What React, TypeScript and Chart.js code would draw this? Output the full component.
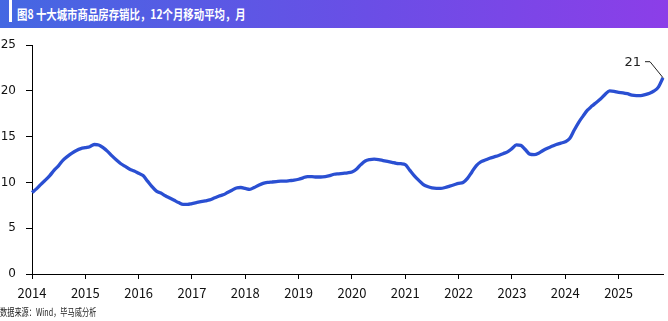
import React, { useEffect, useRef } from "react";
import { Chart, registerables } from "chart.js";

Chart.register(...registerables);

const TITLE = "图8 十大城市商品房存销比，12个月移动平均，月";
const SOURCE = "数据来源：Wind，毕马威分析";
const START_YEAR = 2014;

// Jan 2014 .. Nov 2025, monthly
const ratioValues: number[] = [
  8.9, 9.3, 9.8, 10.25, 10.75, 11.35, 11.85, 12.45, 12.85, 13.2, 13.5, 13.7,
  13.8, 13.9, 14.15, 14.1, 13.8, 13.4, 12.9, 12.45, 12.05, 11.75, 11.45, 11.25,
  11.0, 10.75, 10.15, 9.55, 9.05, 8.85, 8.55, 8.3, 8.05, 7.8, 7.6, 7.6,
  7.7, 7.8, 7.9, 8.0, 8.1, 8.3, 8.5, 8.65, 8.9, 9.15, 9.4, 9.45,
  9.35, 9.25, 9.45, 9.7, 9.9, 10.0, 10.05, 10.1, 10.15, 10.15, 10.2, 10.25,
  10.35, 10.5, 10.65, 10.65, 10.6, 10.6, 10.65, 10.75, 10.9, 10.95, 11.0, 11.05,
  11.15, 11.45, 11.95, 12.35, 12.5, 12.55, 12.5, 12.4, 12.3, 12.2, 12.1, 12.05,
  11.95, 11.35, 10.75, 10.25, 9.8, 9.55, 9.4, 9.35, 9.35, 9.45, 9.6, 9.75,
  9.9, 10.0, 10.45, 11.15, 11.85, 12.25, 12.45, 12.65, 12.8, 12.95, 13.15, 13.35,
  13.7, 14.1, 14.05, 13.6, 13.1, 13.05, 13.2, 13.5, 13.75, 13.95, 14.15, 14.3,
  14.45, 14.8, 15.7, 16.55, 17.25, 17.9, 18.35, 18.75, 19.15, 19.65, 20.0, 19.95,
  19.85, 19.8, 19.7, 19.55, 19.5, 19.5, 19.6, 19.75, 20.0, 20.45, 21.45,
];

const monthLabels: string[] = [];
for (let i = 0; i < ratioValues.length; i++) {
  const y = START_YEAR + Math.floor(i / 12);
  const m = (i % 12) + 1;
  monthLabels.push(`${y}-${m < 10 ? "0" + m : m}`);
}

const yTicks = { min: 0, max: 25, step: 5 };

const lastLabelPlugin = {
  id: "lastLabel",
  afterDatasetsDraw(chart: any) {
    const meta = chart.getDatasetMeta(0);
    const pts = meta.data;
    if (!pts || !pts.length) return;
    const p = pts[pts.length - 1];
    const v = ratioValues[ratioValues.length - 1];
    const ctx = chart.ctx;
    ctx.save();
    ctx.strokeStyle = "#222";
    ctx.lineWidth = 1;
    ctx.beginPath();
    ctx.moveTo(p.x, p.y);
    ctx.lineTo(p.x - 13, p.y - 16);
    ctx.lineTo(p.x - 18, p.y - 16);
    ctx.stroke();
    ctx.fillStyle = "#222";
    ctx.font = "13px 'DejaVu Sans'";
    ctx.textAlign = "right";
    ctx.textBaseline = "middle";
    ctx.fillText(String(Math.round(v)), p.x - 22, p.y - 15);
    ctx.restore();
  },
};

export default function App() {
  const ref = useRef<HTMLCanvasElement | null>(null);

  useEffect(() => {
    document.body.style.margin = "0";
    if (!ref.current) return;
    const chart = new Chart(ref.current, {
      type: "line",
      data: {
        labels: monthLabels,
        datasets: [
          {
            data: ratioValues,
            borderColor: "#2a4fd2",
            borderWidth: 3.3,
            pointRadius: 0,
            tension: 0.4,
            cubicInterpolationMode: "monotone",
            fill: false,
          },
        ],
      },
      options: {
        responsive: false,
        animation: false,
        layout: { padding: { top: 17, right: 5, left: 0, bottom: 0 } },
        plugins: { legend: { display: false }, tooltip: { enabled: false } },
        scales: {
          x: {
            type: "category",
            offset: false,
            afterFit: (s: any) => {
              s.height = 31;
            },
            border: { display: true, color: "#000", width: 1 },
            grid: {
              drawOnChartArea: false,
              drawTicks: true,
              tickLength: 5,
              color: "#000",
            },
            ticks: {
              autoSkip: false,
              maxRotation: 0,
              padding: 6,
              color: "#111",
              font: { family: "'Liberation Sans Narrow', 'Noto Sans CJK SC', sans-serif", size: 13 },
              callback: (_v: any, idx: number) =>
                idx % 12 === 0 ? String(START_YEAR + idx / 12) : null,
            },
          },
          y: {
            min: yTicks.min,
            max: yTicks.max,
            afterFit: (s: any) => {
              s.width = 32;
            },
            border: { display: true, color: "#000", width: 1 },
            grid: {
              drawOnChartArea: false,
              drawTicks: true,
              tickLength: 6,
              color: "#000",
            },
            ticks: {
              stepSize: yTicks.step,
              padding: 10,
              color: "#111",
              font: { family: "'DejaVu Sans', sans-serif", size: 12 },
            },
          },
        },
      },
      plugins: [lastLabelPlugin],
    } as any);
    return () => chart.destroy();
  }, []);

  return (
    <div style={{ position: "relative", width: 668, height: 321, background: "#fff", overflow: "hidden" }}>
      <div
        style={{
          position: "absolute",
          left: 0,
          top: 0,
          width: 668,
          height: 28,
          background: "linear-gradient(90deg, #4468e2 0%, #6a4ee6 55%, #8c3ee8 100%)",
        }}
      >
        <div style={{ position: "absolute", left: 9, top: 0, width: 3, height: 22, background: "#fff" }} />
        <div
          style={{
            position: "absolute",
            left: 17,
            top: 5,
            color: "#fff",
            fontFamily: "'Noto Sans CJK SC', sans-serif",
            fontWeight: 700,
            fontSize: 13,
            lineHeight: "18px",
            whiteSpace: "nowrap",
            transformOrigin: "left center",
            transform: "scaleX(0.8)",
          }}
        >
          {TITLE}
        </div>
      </div>
      <canvas ref={ref} width={668} height={277} style={{ position: "absolute", left: 0, top: 28, display: "block" }} />
      <div
        style={{
          position: "absolute",
          left: 0,
          top: 305,
          color: "#222",
          fontFamily: "'Noto Sans CJK SC', sans-serif",
          fontSize: 10,
          lineHeight: "14px",
          whiteSpace: "nowrap",
          transformOrigin: "left center",
          transform: "scaleX(0.72)",
        }}
      >
        {SOURCE}
      </div>
    </div>
  );
}
